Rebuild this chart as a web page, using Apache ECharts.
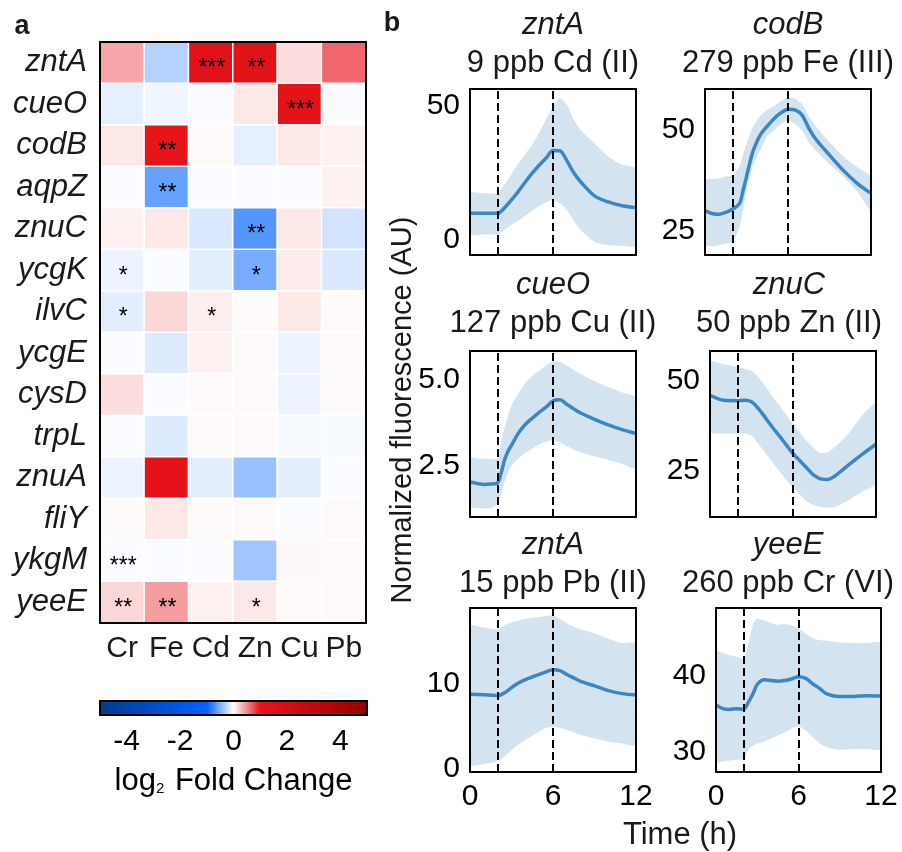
<!DOCTYPE html>
<html>
<head>
<meta charset="utf-8">
<script src="https://cdn.jsdelivr.net/npm/echarts@6/dist/echarts.min.js"></script>
<style>html,body{margin:0;padding:0;background:#fff}#c{width:902px;height:852px}</style>
</head>
<body>
<div id="c"></div>
<script>
// ---------------- Heatmap data ----------------
const genes = ['zntA','cueO','codB','aqpZ','znuC','ycgK','ilvC','ycgE','cysD','trpL','znuA','fliY','ykgM','yeeE'];
const metals = ['Cr','Fe','Cd','Zn','Cu','Pb'];
// log2 fold change, one array per metal (rows follow `genes`)
const fcCr = [0.38,-0.10,0.10,-0.02,0.06,-0.07,-0.11,-0.02,0.14,-0.02,-0.07,0.02,-0.02,0.17];
const fcFe = [-0.29,-0.06,1.05,-0.60,0.10,-0.02,0.17,-0.13,-0.02,-0.13,1.15,0.10,-0.02,0.42];
const fcCd = [1.35,-0.02,0.02,-0.02,-0.14,-0.11,0.07,0.06,0.02,0.02,-0.11,0.02,-0.02,0.06];
const fcZn = [1.35,0.10,-0.10,-0.02,-0.67,-0.53,0.02,0.02,0.02,0.02,-0.40,0.02,-0.37,0.10];
const fcCu = [0.14,1.20,0.10,-0.02,0.10,0.09,0.10,-0.07,-0.07,-0.03,-0.11,-0.02,0.03,0.02];
const fcPb = [0.65,-0.02,0.06,0.06,-0.18,-0.14,0.02,0.02,0.02,-0.03,-0.02,0.02,0.02,0.02];
// significance stars
const sigCr = ['','','','','','*','*','','','','','','***','**'];
const sigFe = ['','','**','**','','','','','','','','','','**'];
const sigCd = ['***','','','','','','*','','','','','','',''];
const sigZn = ['**','','','','**','*','','','','','','','','*'];
const sigCu = ['','***','','','','','','','','','','','',''];
const sigPb = ['','','','','','','','','','','','','',''];
const colorbarTicks = [-4,-2,0,2,4];

// ---------------- Time-course data ----------------
const timeTicks = [0,6,12];
const stimLines = [2,6];

const p1Time  = [0,1,2,2.5,3,3.5,4,4.5,5,5.5,6,6.5,7,7.5,8,9,10,11,12];
const p1Mean  = [9.8,9.8,9.8,11.8,14.8,18,21.5,24.8,27.8,30.5,33.3,33.2,29.5,25,21.6,16.3,14,12.6,11.8];
const p1Upper = [17.3,17.3,17.3,20.5,24.5,28.5,32,35.5,40,45,49.8,53,50.5,45,41,36,31,28,26.5];
const p1Lower = [1.9,1.9,1.9,3.5,5.5,7,8.8,10.8,12.5,13.8,14.8,13.5,11,7,3.5,-1,-2.2,-2.4,-2.4];
const p1Ticks = [0,50];

const p2Time  = [0,0.5,1,1.5,2,2.5,2.75,3,3.25,3.5,4,4.5,5,5.5,6,6.5,7,7.5,8,9,10,11,12];
const p2Mean  = [30,29.3,29.1,29.6,30.4,31.8,35,38.4,42,45,48.8,51,52.9,54.3,55.2,55,53.8,50.5,47.8,43.8,40,36.8,34.3];
const p2Upper = [37.6,37.8,38,38.5,38.8,41,44,46.7,49,51,53.5,55,56,57.2,58,57.8,56.5,53.5,51,47,43.5,40.8,38.5];
const p2Lower = [21.4,21.2,21.4,21.8,22.3,26,30,35,38.4,41.5,45,48.5,50,51.5,52.5,51.5,50,47,45,41.5,38.5,34.8,30];
const p2Ticks = [25,50];

const p3Time  = [0,0.5,1,1.5,2,2.25,2.5,2.75,3,3.5,4,4.5,5,5.5,6,6.5,7,7.5,8,9,10,11,12];
const p3Mean  = [2.04,2.0,1.97,1.98,2.02,2.3,2.68,2.93,3.1,3.45,3.7,3.88,4.05,4.2,4.38,4.41,4.28,4.15,4.03,3.85,3.69,3.55,3.44];
const p3Upper = [2.74,2.72,2.71,2.7,2.72,3.2,3.6,3.95,4.25,4.6,4.9,5.1,5.25,5.4,5.52,5.5,5.4,5.27,5.15,4.95,4.78,4.62,4.48];
const p3Lower = [1.32,1.29,1.27,1.29,1.4,1.7,2.05,2.3,2.5,2.72,2.88,3.0,3.12,3.2,3.25,3.18,3.08,2.98,2.9,2.78,2.68,2.56,2.44];
const p3Ticks = [2.5,5.0];

const p4Time  = [0,1,2,2.5,3,3.5,4,4.5,5,5.5,6,6.5,7,7.5,8,8.5,9,9.5,10,11,12];
const p4Mean  = [46,44.6,44.5,44.6,44.2,42.3,39.8,37.2,34.8,32.3,29.8,27.8,25.8,23.8,22.8,22.6,23.5,25,26.6,29.6,32.4];
const p4Upper = [55.3,54.6,53.8,53.4,52.8,51,48.5,45.8,43.2,40.6,38,35.6,33.3,31.3,30,30.2,31.5,33.3,35.3,40.4,43.7];
const p4Lower = [35.8,35.4,35.4,35.4,34.8,32.4,30,27.5,25,22.6,20.4,18.4,16.6,15.6,15,14.8,14.9,15.8,16.8,19.3,21.5];
const p4Ticks = [25,50];

const p5Time  = [0,1,2,2.5,3,3.5,4,4.5,5,5.5,6,6.5,7,7.5,8,9,10,11,12];
const p5Mean  = [8.79,8.72,8.63,8.95,9.55,10.1,10.5,10.8,11.1,11.4,11.64,11.55,11.1,10.7,10.3,9.75,9.2,8.85,8.7];
const p5Upper = [16.8,16.6,16.4,16.9,17.2,17.4,17.6,17.75,17.85,17.95,18,17.6,17.1,16.7,16.4,15.9,15.3,14.8,14.7];
const p5Lower = [0.5,0.6,0.9,1.5,2.2,2.9,3.4,3.9,4.4,4.8,5.0,4.8,4.6,4.3,4.0,3.6,3.2,3.0,2.85];
const p5Ticks = [0,10];

const p6Time  = [0,0.5,1,1.5,2,2.25,2.5,2.75,3,3.5,4,4.5,5,5.5,6,6.5,7,7.5,8,8.5,9,10,11,12];
const p6Mean  = [36.2,35.7,35.6,35.7,35.6,36.2,37,37.9,38.9,39.5,39.4,39.3,39.4,39.6,39.9,39.7,39,38.4,37.7,37.4,37.3,37.3,37.4,37.35];
const p6Upper = [43.2,43,42.7,42.5,42.3,43.5,45.5,47,47.5,47.3,46.9,46.7,46.8,46.6,46.2,45.6,45,44.7,44.6,44.5,44.4,44.3,44.3,44.3];
const p6Lower = [28.6,28.8,28.9,29,29.1,30,30.6,30.9,31.1,31.4,31.8,32.2,32.6,33.1,33.4,32.9,32,31.2,30.7,30.4,30.3,30.4,30.4,30.4];
const p6Ticks = [30,40];

// ---------------- Styling / layout ----------------
const FONT = '"Liberation Sans", Arial, Helvetica, sans-serif';
const TXT = '#1a1a1a';
const LINE = '#3b87c4';
const BAND = '#d3e3f0';
const FS = 30;      // tick / category labels
const FT = 31;      // titles & names

const panels = [
  {gene:'zntA', cond:'9 ppb Cd (II)',    t:p1Time, m:p1Mean, up:p1Upper, lo:p1Lower, ticks:p1Ticks, ymin:-5.9, ymax:56.4, dec:0, box:[470,89,166,166], cx:553, gy:25, xl:false},
  {gene:'codB', cond:'279 ppb Fe (III)', t:p2Time, m:p2Mean, up:p2Upper, lo:p2Lower, ticks:p2Ticks, ymin:19.0, ymax:60.2, dec:0, box:[705,89,166,166], cx:788, gy:25, xl:false},
  {gene:'cueO', cond:'127 ppb Cu (II)',  t:p3Time, m:p3Mean, up:p3Upper, lo:p3Lower, ticks:p3Ticks, ymin:1.03, ymax:5.82, dec:1, box:[470,351,166,166], cx:553, gy:285, xl:false},
  {gene:'znuC', cond:'50 ppb Zn (II)',   t:p4Time, m:p4Mean, up:p4Upper, lo:p4Lower, ticks:p4Ticks, ymin:12.2, ymax:58.3, dec:0, box:[710,351,166,166], cx:789, gy:285, xl:false},
  {gene:'zntA', cond:'15 ppb Pb (II)',   t:p5Time, m:p5Mean, up:p5Upper, lo:p5Lower, ticks:p5Ticks, ymin:-0.35, ymax:18.9, dec:0, box:[470,608,166,164], cx:553, gy:545, xl:true},
  {gene:'yeeE', cond:'260 ppb Cr (VI)',  t:p6Time, m:p6Mean, up:p6Upper, lo:p6Lower, ticks:p6Ticks, ymin:27.4, ymax:48.9, dec:0, box:[716,608,165,164], cx:788, gy:545, xl:true}
];

const fcCols = [fcCr,fcFe,fcCd,fcZn,fcCu,fcPb];
const sigCols = [sigCr,sigFe,sigCd,sigZn,sigCu,sigPb];
const heatData = [];
metals.forEach((mt, ci) => genes.forEach((g, ri) => heatData.push([ci, ri, fcCols[ci][ri]])));

const frameLine = {show:true, onZero:false, lineStyle:{color:'#000', width:2}};
const grids = [{left:100, top:42, width:266, height:581}];
const xAxes = [
  {gridIndex:0, type:'category', data:metals, position:'bottom', z:10, axisLine:frameLine, axisTick:{show:false}, splitLine:{show:false},
   axisLabel:{interval:0, fontSize:FS, color:TXT, fontFamily:FONT, margin:11}},
  {gridIndex:0, type:'category', data:metals, position:'top', z:10, axisLine:frameLine, axisTick:{show:false}, axisLabel:{show:false}, splitLine:{show:false}}
];
const yAxes = [
  {gridIndex:0, type:'category', data:genes, inverse:true, position:'left', z:10, axisLine:frameLine, axisTick:{show:false}, splitLine:{show:false},
   axisLabel:{interval:0, fontSize:FT, color:TXT, fontFamily:FONT, fontStyle:'italic', margin:13}},
  {gridIndex:0, type:'category', data:genes, inverse:true, position:'right', z:10, axisLine:frameLine, axisTick:{show:false}, axisLabel:{show:false}, splitLine:{show:false}}
];
const series = [{
  type:'heatmap', xAxisIndex:0, yAxisIndex:0, data:heatData,
  itemStyle:{borderColor:'#fff', borderWidth:1.5},
  label:{show:true, color:'#000', fontSize:23, fontFamily:FONT, offset:[1,6],
    formatter: p => sigCols[p.value[0]][p.value[1]]},
  emphasis:{disabled:true}
}];
const graphics = [];

panels.forEach((p, k) => {
  const gi = k + 1;
  grids.push({left:p.box[0], top:p.box[1], width:p.box[2], height:p.box[3]});
  const xi = xAxes.length, yi = yAxes.length;
  xAxes.push({gridIndex:gi, type:'value', min:0, max:12, position:'bottom', z:10, axisLine:frameLine, axisTick:{show:false}, splitLine:{show:false},
    axisLabel:{show:p.xl, customValues:timeTicks, fontSize:FS, color:'#000', fontFamily:FONT, margin:10}});
  xAxes.push({gridIndex:gi, type:'value', min:0, max:12, position:'top', z:10, axisLine:frameLine, axisTick:{show:false}, axisLabel:{show:false}, splitLine:{show:false}});
  yAxes.push({gridIndex:gi, type:'value', min:p.ymin, max:p.ymax, position:'left', z:10, axisLine:frameLine, axisTick:{show:false}, splitLine:{show:false},
    axisLabel:{customValues:p.ticks, fontSize:FS, color:'#000', fontFamily:FONT, margin:10, formatter: v => v.toFixed(p.dec)}});
  yAxes.push({gridIndex:gi, type:'value', min:p.ymin, max:p.ymax, position:'right', z:10, axisLine:frameLine, axisTick:{show:false}, axisLabel:{show:false}, splitLine:{show:false}});
  series.push({
    type:'custom', xAxisIndex:xi, yAxisIndex:yi, silent:true, clip:true, z:1,
    data:[[p.t[0], p.m[0]]],
    renderItem: (params, api) => {
      const pts = [];
      for (let i = 0; i < p.t.length; i++) pts.push(api.coord([p.t[i], p.up[i]]));
      for (let i = p.t.length - 1; i >= 0; i--) pts.push(api.coord([p.t[i], p.lo[i]]));
      return {type:'polygon', shape:{points:pts, smooth:0.2}, style:{fill:BAND}};
    }
  });
  series.push({
    type:'line', xAxisIndex:xi, yAxisIndex:yi, silent:true, showSymbol:false, smooth:0.3, z:3,
    data: p.t.map((x, i) => [x, p.m[i]]),
    lineStyle:{color:LINE, width:3.5},
    markLine:{silent:true, symbol:['none','none'], label:{show:false}, animation:false,
      lineStyle:{color:'#000', type:[8,4], width:2},
      data: stimLines.map(v => ({xAxis:v}))}
  });
  graphics.push({type:'text', x:p.cx, y:p.gy, style:{text:p.gene, fontSize:FT, fontStyle:'italic', fontFamily:FONT, fill:TXT, align:'center', verticalAlign:'middle'}});
  graphics.push({type:'text', x:p.cx, y:p.gy + 38, style:{text:p.cond, fontSize:FT, fontFamily:FONT, fill:TXT, align:'center', verticalAlign:'middle'}});
});

// colorbar frame + ticks
const cbg = grids.length;
grids.push({left:100, top:701, width:267, height:14});
xAxes.push({gridIndex:cbg, type:'value', min:-5, max:5, position:'bottom', z:10, axisLine:frameLine, axisTick:{show:false}, splitLine:{show:false},
  axisLabel:{customValues:colorbarTicks, fontSize:FS, color:'#000', fontFamily:FONT, margin:12},
  name:'log{sub|2} Fold Change', nameLocation:'middle', nameGap:51,
  nameTextStyle:{fontSize:FT, color:'#000', fontFamily:FONT, rich:{sub:{fontSize:15, fontFamily:FONT, color:'#000', padding:[15,2,0,0]}}}});
xAxes.push({gridIndex:cbg, type:'value', min:-5, max:5, position:'top', z:10, axisLine:frameLine, axisTick:{show:false}, axisLabel:{show:false}, splitLine:{show:false}});
yAxes.push({gridIndex:cbg, type:'value', min:0, max:1, position:'left', z:10, axisLine:frameLine, axisTick:{show:false}, axisLabel:{show:false}, splitLine:{show:false}});
yAxes.push({gridIndex:cbg, type:'value', min:0, max:1, position:'right', z:10, axisLine:frameLine, axisTick:{show:false}, axisLabel:{show:false}, splitLine:{show:false}});

graphics.push({type:'text', x:22, y:27, style:{text:'a', fontSize:27, fontWeight:'bold', fontFamily:FONT, fill:TXT, align:'center', verticalAlign:'middle'}});
graphics.push({type:'text', x:392, y:24, style:{text:'b', fontSize:27, fontWeight:'bold', fontFamily:FONT, fill:TXT, align:'center', verticalAlign:'middle'}});
graphics.push({type:'text', x:403, y:410, rotation:Math.PI/2, style:{text:'Normalized fluorescence (AU)', fontSize:29, fontFamily:FONT, fill:TXT, align:'center', verticalAlign:'middle'}});
graphics.push({type:'text', x:680, y:835, style:{text:'Time (h)', fontSize:FT, fontFamily:FONT, fill:TXT, align:'center', verticalAlign:'middle'}});

const chart = echarts.init(document.getElementById('c'), null, {renderer:'canvas'});
chart.setOption({
  animation:false,
  backgroundColor:'#fff',
  textStyle:{fontFamily:FONT},
  grid:grids, xAxis:xAxes, yAxis:yAxes, series:series,
  visualMap:{type:'continuous', min:-5, max:5, seriesIndex:0, dimension:2, calculable:false, orient:'horizontal',
    left:100, top:701, itemWidth:14, itemHeight:267, padding:0, text:null, showLabel:false,
    inRange:{color:['#043a8f','#0344ab','#024ec7','#0158e3','#0062ff','#ffffff','#e8141a','#d30f14','#bf0a0d','#aa0507','#960000']}},
  graphic:graphics
});
</script>
</body>
</html>
